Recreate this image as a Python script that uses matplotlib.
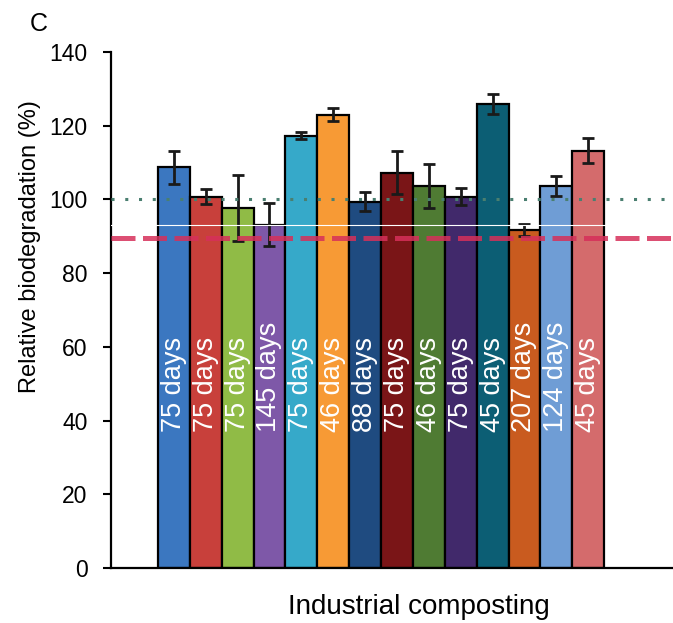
import matplotlib.pyplot as plt
import numpy as np

plt.rcParams['font.family'] = ['Liberation Sans', 'DejaVu Sans']

values = [108.7, 100.7, 97.6, 93.2, 117.3, 123.0, 99.4, 107.3,
          103.7, 100.7, 125.9, 91.7, 103.6, 113.2]
errors = [4.5, 2.0, 9.0, 5.7, 0.9, 1.8, 2.5, 5.8,
          6.0, 2.3, 2.6, 1.6, 2.8, 3.4]
durations = ['75 days', '75 days', '75 days', '145 days', '75 days', '46 days', '88 days',
             '75 days', '46 days', '75 days', '45 days', '207 days', '124 days', '45 days']
colors = ['#3b77c0', '#c8403b', '#90bb46', '#7e58a8', '#36a9c9', '#f79a35', '#1f4b80',
          '#7a1517', '#4f7b33', '#41296b', '#0c5e74', '#c95b1f', '#6f9dd5', '#d46b6c']
reference_level = 100
threshold = 89.5

fig = plt.figure(figsize=(6.73, 6.23), dpi=100)
ax = fig.add_axes([0.165, 0.0883, 0.835, 0.8282])

x = np.arange(len(values))
ax.bar(x, values, width=1.0, color=colors, edgecolor='black', linewidth=1.6, zorder=2)
ax.errorbar(x, values, yerr=errors, fmt='none', ecolor='#1a1a1a', elinewidth=2.0,
            capsize=4.5, capthick=2.0, zorder=3)

for xi, txt in zip(x, durations):
    ax.text(xi, 37, txt, rotation=90, ha='center', va='bottom', color='white',
            fontsize=19.5, zorder=4)

ax.axhline(reference_level, color='#4a7f70', linestyle=(0, (1, 3.5)), linewidth=2.2, zorder=4)
ax.axhline(threshold, color='#d6305a', linestyle=(0, (4.8, 1.5)), linewidth=3.6, alpha=0.85, zorder=4)
ax.axhline(93, color='white', linewidth=0.8, zorder=5)

ax.set_xlim(-1.97, 15.66)
ax.set_ylim(0, 140)
ax.set_yticks(np.arange(0, 141, 20))
ax.set_xticks([])
ax.tick_params(axis='y', labelsize=16.5, length=6, width=1.5, direction='out', pad=11)
for side in ['top', 'right']:
    ax.spines[side].set_visible(False)
for side in ['left', 'bottom']:
    ax.spines[side].set_linewidth(1.6)

ax.set_ylabel('Relative biodegradation (%)', fontsize=17)
ax.yaxis.set_label_coords(-0.124, 0.622)
ax.set_xlabel('Industrial composting', fontsize=20)
ax.xaxis.set_label_coords(0.547, -0.05)
fig.text(0.044, 0.962, 'C', fontsize=18, ha='left', va='center')

fig.savefig('out.png', dpi=100)
